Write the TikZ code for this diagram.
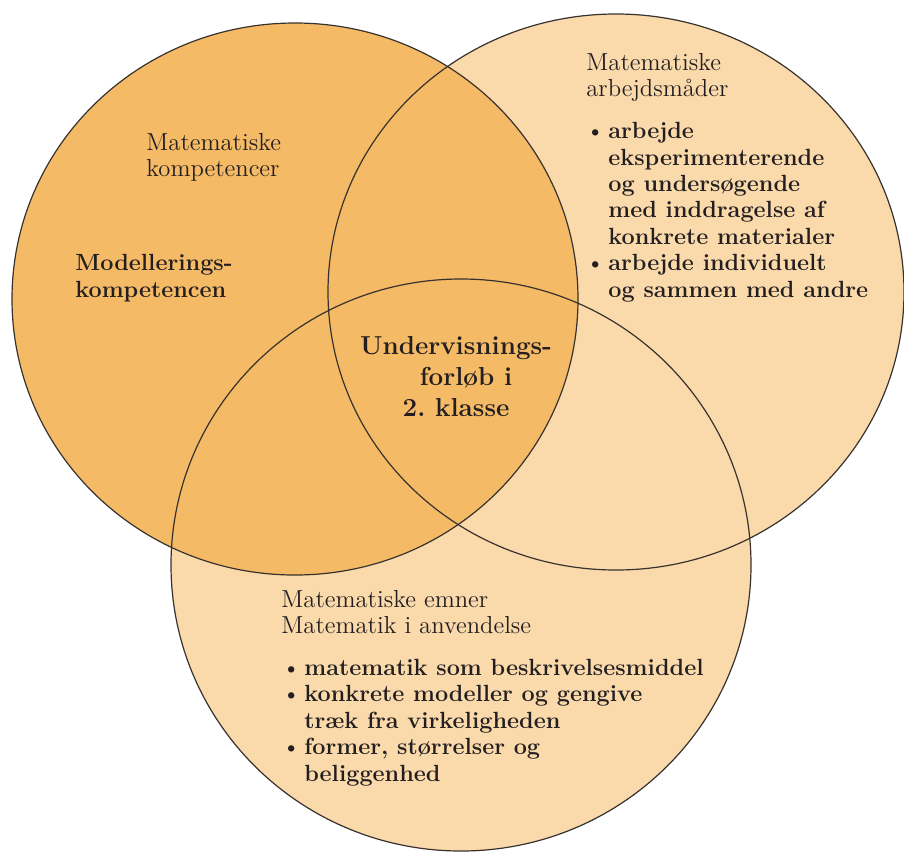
\documentclass[tikz,border=0pt]{standalone}
\usepackage{fontspec}
\definecolor{dkorange}{RGB}{245,186,102}
\definecolor{ltorange}{RGB}{250,217,171}
\definecolor{rimgray}{RGB}{55,50,45}
\definecolor{ink}{RGB}{35,31,32}
\newcommand{\bul}{\makebox[11pt][l]{\normalfont\textbullet}}
\newcommand{\ind}{\hspace*{11pt}}
\begin{document}
\begin{tikzpicture}[x=0.5pt,y=-0.5pt,
  rim/.style={draw=rimgray,line width=0.6pt},
  head/.style={anchor=base west,inner sep=0pt,align=left,text=ink,font=\fontsize{12.3}{13}\selectfont},
  items/.style={anchor=base west,inner sep=0pt,align=left,text=ink,font=\fontsize{11.7}{13.2}\selectfont\bfseries}]
\clip (0,0) rectangle (904,853);
\fill[ltorange] (616,292) ellipse [x radius=144pt,y radius=139pt];
\fill[ltorange] (461,565) ellipse [x radius=145pt,y radius=143pt];
\fill[dkorange] (295,299) ellipse [x radius=141.5pt,y radius=138pt];
\draw[rim] (616,292) ellipse [x radius=144pt,y radius=139pt];
\draw[rim] (461,565) ellipse [x radius=145pt,y radius=143pt];
\draw[rim] (295,299) ellipse [x radius=141.5pt,y radius=138pt];
\node[head] (lhead) at (146,176) {Matematiske\\kompetencer};
\node[items] (model) at (75,297) {Modellerings-\\kompetencen};
\node[head] (rhead) at (586,96) {Matematiske\\arbejdsmåder};
\node[items] (ritems) at (586,297) {\bul arbejde\\\ind eksperimenterende\\\ind og undersøgende\\\ind med inddragelse af\\\ind konkrete materialer\\\bul arbejde individuelt\\\ind og sammen med andre};
\node[head] (bhead) at (281,633) {Matematiske emner\\Matematik i anvendelse};
\node[items] (bitems) at (282,781) {\bul matematik som beskrivelsesmiddel\\\bul konkrete modeller og gengive\\\ind træk fra virkeligheden\\\bul former, størrelser og\\\ind beliggenhed};
\node[anchor=base,inner sep=0pt,align=center,text=ink,font=\fontsize{13}{15.5}\selectfont\bfseries] (core) at (456,416) {Undervisnings-\\\hspace*{10pt}forløb i\\2.\ klasse};
\end{tikzpicture}
\end{document}
